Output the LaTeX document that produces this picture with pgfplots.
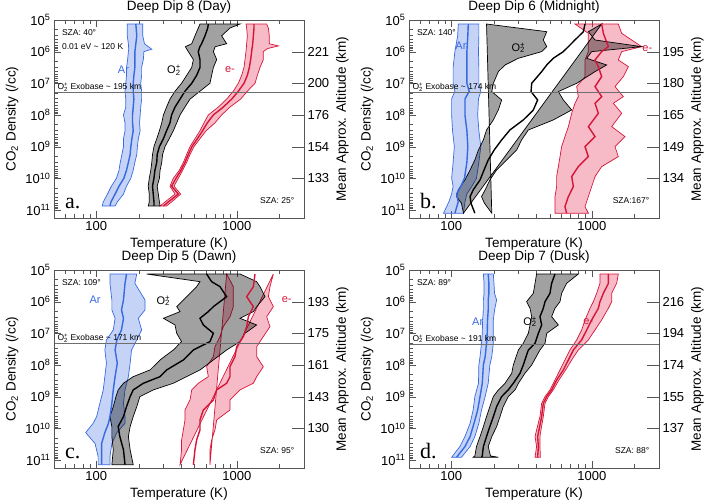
\documentclass[border=0pt]{standalone}
\usepackage{fontspec}
\setmainfont{Liberation Sans}
\newfontfamily\seriffont{Liberation Serif}
\usepackage{pgfplots}
\usepackage{pgfplotstable}
\pgfplotsset{compat=1.18}
\usepgfplotslibrary{fillbetween}

\definecolor{arC}{RGB}{55,105,225}
\definecolor{arF}{RGB}{60,110,225}
\definecolor{eC}{RGB}{215,20,55}
\definecolor{eF}{RGB}{225,30,70}
\definecolor{frameC}{RGB}{85,85,85}
\definecolor{exoC}{RGB}{110,110,110}

\pgfplotstableread{
n lo c hi
1.34e5 166 191 214
3.16e5 166 194 214
5.62e5 169 191 220
8.4e5 170 189 248
1e6 169 188 218
1.78e6 167 188 216
3.16e6 164 188 210
5.62e6 164 185 210
1e7 162 183 207
1.78e7 160 183 210
3.16e7 162 185 210
5.62e7 162 183 207
1e8 156 181 205
1.78e8 160 181 203
3.16e8 160 183 205
5.62e8 156 179 199
1e9 156 176 196
1.78e9 152 174 194
3.16e9 148 169 188
5.62e9 145 164 183
1e10 139 157 176
1.78e10 128 145 164
3.16e10 120 136 156
5.62e10 112 127 141
7.5e10 110 125 136
}\TaAr
\pgfplotstableread{
n lo c hi
1.34e5 546 626 1052
1.79e5 531 620 893
3.16e5 503 593 779
5.62e5 477 561 845
7e5 430 545 700
1e6 451 531 680
1.78e6 490 546 718
3.16e6 477 546 680
5.62e6 439 517 661
1e7 404 477 643
1.78e7 363 427 546
3.16e7 334 394 464
5.62e7 316 363 427
1e8 300 343 394
1.78e8 292 334 373
3.16e8 281 316 353
5.62e8 269 300 330
1e9 257 281 308
1.78e9 251 271 296
3.16e9 248 269 292
5.62e9 244 261 284
1e10 238 257 281
1.78e10 234 251 271
3.16e10 238 254 276
5.62e10 238 257 281
7.5e10 234 257 284
}\TaO
\pgfplotstableread{
n lo c hi
1.34e5 1160 1323 1628
1.79e5 1173 1323 1673
3.16e5 1186 1309 1700
5.62e5 1173 1295 1700
6.6e5 1170 1290 1971
8e5 1165 1280 1650
1e6 1160 1273 1541
1.78e6 1141 1253 1541
3.16e6 1123 1226 1459
5.62e6 1081 1186 1397
1e7 1023 1123 1345
1.78e7 943 1023 1186
3.16e7 845 918 1063
5.62e7 738 800 893
1e8 626 680 779
1.78e8 583 616 698
3.16e8 546 570 603
5.62e8 503 523 546
1e9 464 479 495
1.78e9 439 451 464
3.16e9 416 427 439
5.62e9 389 400 411
1e10 353 369 383
1.78e10 334 343 357
3.16e10 363 383 398
5.62e10 308 325 343
7.5e10 284 300 316
}\TaE

\pgfplotstableread{
n lo c hi
1.34e5 112 132 157
3.12e5 111 131 157
1e6 106 129 156
3.12e6 103 129 157
1e7 103 129 157
1.79e7 106 134 162
3.12e7 100.5 125 156
1e8 100.5 125 154
3.12e8 102 129 157
1e9 105 131 162
3.12e9 103 129 157
1e10 100.5 124 151
1.79e10 103 117 140
3.12e10 100.5 109 129
5.58e10 96 112 125
1.27e11 88 106 122
}\TbAr
\pgfplotstableread{
n lo c hi
1.34e5 178 893 1173
2.34e5 477 869 943
4.28e5 451 758 1052
6.95e5 477 680 2259
1e6 439 626 996
1.62e6 300 531 918
2.64e6 241 477 1273
4.28e6 216 439 1052
1e7 199 373 779
1.83e7 194 369 577
3.36e7 228 411 626
6.95e7 216 383 718
1.44e8 199 325 531
2.98e8 178 261 353
6.15e8 169 228 316
1.27e9 156 202 292
2.64e9 147 183 248
5.46e9 136 171 210
1.13e10 125 160 188
2.34e10 112 143 174
3.79e10 109 136 164
6.15e10 118 138 172
1.27e11 122 147 194
}\TbO
\pgfplotstableread{
n lo c hi
1.34e5 758 1173 1541
2.64e5 943 1206 1628
6.95e5 943 1309 2259
1e6 943 1173 1628
1.83e6 893 1052 1541
2.98e6 893 1111 1816
6.15e6 893 1173 1673
1.27e7 779 1052 1459
2.64e7 800 1173 1673
4.28e7 758 1052 1420
8.86e7 718 1111 1628
2.34e8 680 943 1382
4.83e8 643 1052 1719
1e9 609 893 1459
2.07e9 593 943 1541
4.28e9 577 800 1173
8.86e9 561 718 1052
1.83e10 561 738 996
3.79e10 546 680 943
7.85e10 546 643 893
1.27e11 546 661 943
}\TbE

\pgfplotstableread{
n lo c hi
1.34e5 125 164 194
2.64e5 125 160 188
8.86e5 129 156 222
1.83e6 129 151 222
3.36e6 136 156 199
7.85e6 132 151 210
1.62e7 118 140 194
3.36e7 115 136 178
8.86e7 118 141 174
2.34e8 115 136 169
6.15e8 112 132 160
1.62e9 106 129 156
4.28e9 100.5 125 160
6.95e9 95 122 160
1.37e10 84 115 140
3.05e10 98 109 129
7.85e10 103 109 125
1.42e11 103 109 125
}\TcAr
\pgfplotstableread{
n lo c hi
1.34e5 228 609 1052
2.34e5 546 661 1382
3.36e5 517 758 1459
6.95e5 439 845 1584
1.44e6 373 680 1382
2.07e6 394 626 1309
3.36e6 300 546 1052
5.46e6 363 577 1382
1e7 373 680 1141
1.83e7 404 643 1052
3.36e7 353 490 845
6.95e7 284 416 680
1.44e8 241 316 546
2.34e8 183 284 439
3.79e8 156 216 353
6.15e8 143 183 254
1e9 138 174 204
2.07e9 132 164 194
4.28e9 125 156 183
8.86e9 129 143 174
1.83e10 129 147 169
4.8e10 132 156 174
1.42e11 129 160 183
}\TcO
\pgfplotstableread{
n lo c hi
1.34e5 845 1345 1816
3.36e5 943 1309 1719
6.95e5 943 1173 1673
1.44e6 943 1309 1816
2.98e6 893 1206 1628
6.15e6 800 1173 1719
1.27e7 758 1111 1541
2.64e7 698 996 1382
5.46e7 680 969 1382
1.13e8 609 893 1541
2.34e8 626 893 1382
3.79e8 531 845 1309
6.15e8 477 718 1052
1.27e9 464 680 893
2.64e9 427 577 893
5.46e9 427 546 718
1.13e10 416 546 698
2.34e10 404 517 661
4.8e10 404 503 643
1.42e11 394 490 643
}\TcE

\pgfplotstableread{
n lo c hi
1.34e5 169 183 199
2.64e5 171 185 201
5.46e5 171 185 203
8.86e5 169 183 210
1.83e6 169 183 203
3.79e6 167 181 199
1e7 166 180 199
2.07e7 164 178 199
5.46e7 160 174 194
1e8 157 169 188
3.79e8 156 166 183
1e9 147 160 174
2.64e9 143 154 164
6.95e9 136 145 157
1.83e10 125 136 147
3.79e10 115 125 136
8.24e10 100.5 109 118
}\TdAr
\pgfplotstableread{
n lo c hi
1.34e5 404 546 800
2.64e5 394 517 661
5.46e5 383 503 609
1e6 343 464 593
1.62e6 363 451 546
2.98e6 373 427 517
5.46e6 363 439 577
1e7 353 416 477
2.07e7 325 394 464
3.36e7 300 353 427
1e8 276 325 373
1.83e8 269 308 334
3.79e8 241 276 300
6.15e8 216 254 284
1e9 199 228 254
2.07e9 188 210 234
4.28e9 178 199 222
8.86e9 169 188 210
1.83e10 160 178 194
3.79e10 151 169 183
7.5e10 147 166 190
8.24e10 143 164 216
}\TdO
\pgfplotstableread{
n lo c hi
1.34e5 1141 1309 1541
2.64e5 1141 1309 1500
5.46e5 1081 1206 1382
1e6 1023 1141 1382
1.62e6 969 1111 1309
3.79e6 893 996 1173
7.85e6 845 918 1052
1.62e7 779 845 943
3.36e7 698 738 800
6.95e7 643 680 718
1.44e8 593 626 650
2.98e8 546 561 583
6.15e8 503 517 531
1e9 464 477 490
1.62e9 439 451 464
4.28e9 427 439 451
1.13e10 404 420 434
1.83e10 394 411 427
3.79e10 404 416 427
8.24e10 394 411 430
}\TdE

\newcommand{\specband}[5]{%
  \addplot[draw=none, forget plot, name path=#5L] table[x=lo,y=n]{#1};
  \addplot[draw=none, forget plot, name path=#5H] table[x=hi,y=n]{#1};
  \addplot[fill=#2, fill opacity=#3, draw=#4, line width=0.7pt, forget plot] fill between[of=#5L and #5H];
  \addplot[#4, line width=1.4pt, forget plot] table[x=c,y=n]{#1};
}

\newcommand{\smallfont}{\fontsize{8.5}{10}\selectfont}
\newcommand{\spfont}{\fontsize{11}{13}\selectfont}
\newcommand{\tickfont}{\fontsize{13}{15}\selectfont}
\newcommand{\labfont}{\fontsize{13.5}{16}\selectfont}
\newcommand{\Otwo}{O\rlap{\textsubscript{2}}\textsuperscript{+}}

\begin{document}
\begin{tikzpicture}
% ===== Panel a =====
\begin{axis}[scale only axis, width=250pt, height=198pt,
    xmode=log, ymode=log, y dir=reverse,
    xmin=50, xmax=3000, ymin=1e5, ymax=1.8e11,
    xtick={100,1000}, xticklabels={100,1000},
    minor xtick={50,60,70,80,90,200,300,400,500,600,700,800,900,2000,3000},
    ytick={1e5,1e6,1e7,1e8,1e9,1e10,1e11},
    yticklabels={10\textsuperscript{5},10\textsuperscript{6},10\textsuperscript{7},10\textsuperscript{8},10\textsuperscript{9},10\textsuperscript{10},10\textsuperscript{11}},
    minor ytick={2e5,3e5,4e5,5e5,6e5,7e5,8e5,9e5,2e6,3e6,4e6,5e6,6e6,7e6,8e6,9e6,2e7,3e7,4e7,5e7,6e7,7e7,8e7,9e7,2e8,3e8,4e8,5e8,6e8,7e8,8e8,9e8,2e9,3e9,4e9,5e9,6e9,7e9,8e9,9e9,2e10,3e10,4e10,5e10,6e10,7e10,8e10,9e10},
    xtick pos=both, ytick pos=left,
    tick align=inside, major tick length=7pt, minor tick length=4pt,
    axis line style={frameC}, tick style={frameC},
    xticklabel style={font=\tickfont}, yticklabel style={font=\tickfont},
    xlabel style={font=\labfont}, ylabel style={font=\labfont},
    title style={font=\labfont, yshift=-3pt},
    xlabel={Temperature (K)}, ylabel={CO\textsubscript{2} Density (/cc)},
    title={Deep Dip 8 (Day)}, at={(54pt,284pt)}, anchor=south west]
  \specband{\TaAr}{arF}{0.3}{arC}{aar}
  \specband{\TaE}{eF}{0.3}{eC}{ael}
  \specband{\TaO}{black}{0.37}{black}{aox}
  \addplot[exoC, line width=0.8pt] coordinates {(50,1.92e7) (3000,1.92e7)};
  \node[anchor=south west, inner sep=1pt, font=\smallfont] at (axis cs:52,1.92e7) {\Otwo\ Exobase \textasciitilde\ 195 km};
  \node[anchor=west, font=\smallfont] at (axis description cs:0.018,0.934) {SZA: 40°};
  \node[anchor=west, font=\smallfont] at (axis description cs:0.018,0.864) {0.01 eV \textasciitilde\ 120 K};
  \node[anchor=east, font=\smallfont] at (axis description cs:0.975,0.086) {SZA: 25°};
  \node[anchor=base west, font=\seriffont\fontsize{22}{24}\selectfont] at (axis description cs:0.03,0.05) {a.};
  \node[text=arC, font=\spfont] at (axis cs:156,3.8e6) {Ar};
  \node[text=black, font=\spfont] at (axis cs:357,3.8e6) {\Otwo};
  \node[text=eC, font=\spfont] at (axis cs:893,3.8e6) {e-};
\end{axis}
\begin{axis}[scale only axis, width=250pt, height=198pt,
    ymode=log, y dir=reverse, ymin=1e5, ymax=1.8e11, xmin=0, xmax=1,
    hide x axis, ytick={1e6,1e7,1e8,1e9,1e10}, yminorticks=false,
    ytick pos=right, yticklabel pos=right,
    tick align=inside, major tick length=12pt,
    axis line style={frameC}, tick style={frameC},
    yticklabel style={font=\tickfont}, ylabel style={font=\labfont},
    ylabel={Mean Approx. Altitude (km)},
    yticklabels={221,200,176,154,133}, at={(54pt,284pt)}, anchor=south west]
\end{axis}

% ===== Panel b =====
\begin{axis}[scale only axis, width=250pt, height=198pt,
    xmode=log, ymode=log, y dir=reverse,
    xmin=50, xmax=3000, ymin=1e5, ymax=1.8e11,
    xtick={100,1000}, xticklabels={100,1000},
    minor xtick={50,60,70,80,90,200,300,400,500,600,700,800,900,2000,3000},
    ytick={1e5,1e6,1e7,1e8,1e9,1e10,1e11},
    yticklabels={10\textsuperscript{5},10\textsuperscript{6},10\textsuperscript{7},10\textsuperscript{8},10\textsuperscript{9},10\textsuperscript{10},10\textsuperscript{11}},
    minor ytick={2e5,3e5,4e5,5e5,6e5,7e5,8e5,9e5,2e6,3e6,4e6,5e6,6e6,7e6,8e6,9e6,2e7,3e7,4e7,5e7,6e7,7e7,8e7,9e7,2e8,3e8,4e8,5e8,6e8,7e8,8e8,9e8,2e9,3e9,4e9,5e9,6e9,7e9,8e9,9e9,2e10,3e10,4e10,5e10,6e10,7e10,8e10,9e10},
    xtick pos=both, ytick pos=left,
    tick align=inside, major tick length=7pt, minor tick length=4pt,
    axis line style={frameC}, tick style={frameC},
    xticklabel style={font=\tickfont}, yticklabel style={font=\tickfont},
    xlabel style={font=\labfont}, ylabel style={font=\labfont},
    title style={font=\labfont, yshift=-3pt},
    xlabel={Temperature (K)}, ylabel={CO\textsubscript{2} Density (/cc)},
    title={Deep Dip 6 (Midnight)}, at={(409pt,284pt)}, anchor=south west]
  \specband{\TbAr}{arF}{0.3}{arC}{bar}
  \specband{\TbE}{eF}{0.3}{eC}{bel}
  \specband{\TbO}{black}{0.37}{black}{box}
  \addplot[exoC, line width=0.8pt] coordinates {(50,1.92e7) (3000,1.92e7)};
  \node[anchor=south west, inner sep=1pt, font=\smallfont] at (axis cs:52,1.92e7) {\Otwo\ Exobase \textasciitilde\ 174 km};
  \node[anchor=west, font=\smallfont] at (axis description cs:0.018,0.934) {SZA: 140°};
  \node[anchor=east, font=\smallfont] at (axis description cs:0.975,0.086) {SZA:167°};
  \node[anchor=base west, font=\seriffont\fontsize{22}{24}\selectfont] at (axis description cs:0.03,0.05) {b.};
  \node[text=arC, font=\spfont] at (axis cs:117,6.5e5) {Ar};
  \node[text=black, font=\spfont] at (axis cs:300,7.5e5) {\Otwo};
  \node[text=eC, font=\spfont] at (axis cs:2480,7.9e5) {e-};
\end{axis}
\begin{axis}[scale only axis, width=250pt, height=198pt,
    ymode=log, y dir=reverse, ymin=1e5, ymax=1.8e11, xmin=0, xmax=1,
    hide x axis, ytick={1e6,1e7,1e8,1e9,1e10}, yminorticks=false,
    ytick pos=right, yticklabel pos=right,
    tick align=inside, major tick length=12pt,
    axis line style={frameC}, tick style={frameC},
    yticklabel style={font=\tickfont}, ylabel style={font=\labfont},
    ylabel={Mean Approx. Altitude (km)},
    yticklabels={195,180,165,149,134}, at={(409pt,284pt)}, anchor=south west]
\end{axis}

% ===== Panel c =====
\begin{axis}[scale only axis, width=250pt, height=198pt,
    xmode=log, ymode=log, y dir=reverse,
    xmin=50, xmax=3000, ymin=1e5, ymax=1.8e11,
    xtick={100,1000}, xticklabels={100,1000},
    minor xtick={50,60,70,80,90,200,300,400,500,600,700,800,900,2000,3000},
    ytick={1e5,1e6,1e7,1e8,1e9,1e10,1e11},
    yticklabels={10\textsuperscript{5},10\textsuperscript{6},10\textsuperscript{7},10\textsuperscript{8},10\textsuperscript{9},10\textsuperscript{10},10\textsuperscript{11}},
    minor ytick={2e5,3e5,4e5,5e5,6e5,7e5,8e5,9e5,2e6,3e6,4e6,5e6,6e6,7e6,8e6,9e6,2e7,3e7,4e7,5e7,6e7,7e7,8e7,9e7,2e8,3e8,4e8,5e8,6e8,7e8,8e8,9e8,2e9,3e9,4e9,5e9,6e9,7e9,8e9,9e9,2e10,3e10,4e10,5e10,6e10,7e10,8e10,9e10},
    xtick pos=both, ytick pos=left,
    tick align=inside, major tick length=7pt, minor tick length=4pt,
    axis line style={frameC}, tick style={frameC},
    xticklabel style={font=\tickfont}, yticklabel style={font=\tickfont},
    xlabel style={font=\labfont}, ylabel style={font=\labfont},
    title style={font=\labfont, yshift=-3pt},
    xlabel={Temperature (K)}, ylabel={CO\textsubscript{2} Density (/cc)},
    title={Deep Dip 5 (Dawn)}, at={(54pt,34pt)}, anchor=south west]
  \specband{\TcAr}{arF}{0.3}{arC}{car}
  \specband{\TcE}{eF}{0.3}{eC}{cel}
  \specband{\TcO}{black}{0.37}{black}{cox}
  \addplot[exoC, line width=0.8pt] coordinates {(50,2.07e7) (3000,2.07e7)};
  \node[anchor=south west, inner sep=1pt, font=\smallfont] at (axis cs:52,2.07e7) {\Otwo\ Exobase \textasciitilde\ 171 km};
  \node[anchor=west, font=\smallfont] at (axis description cs:0.018,0.934) {SZA: 109°};
  \node[anchor=east, font=\smallfont] at (axis description cs:0.975,0.086) {SZA: 95°};
  \node[anchor=base west, font=\seriffont\fontsize{22}{24}\selectfont] at (axis description cs:0.03,0.05) {c.};
  \node[text=arC, font=\spfont] at (axis cs:98,8.5e5) {Ar};
  \node[text=black, font=\spfont] at (axis cs:300,9.3e5) {\Otwo};
  \node[text=eC, font=\spfont] at (axis cs:2259,8.9e5) {e-};
\end{axis}
\begin{axis}[scale only axis, width=250pt, height=198pt,
    ymode=log, y dir=reverse, ymin=1e5, ymax=1.8e11, xmin=0, xmax=1,
    hide x axis, ytick={1e6,1e7,1e8,1e9,1e10}, yminorticks=false,
    ytick pos=right, yticklabel pos=right,
    tick align=inside, major tick length=12pt,
    axis line style={frameC}, tick style={frameC},
    yticklabel style={font=\tickfont}, ylabel style={font=\labfont},
    ylabel={Mean Approx. Altitude (km)},
    yticklabels={193,175,161,143,130}, at={(54pt,34pt)}, anchor=south west]
\end{axis}

% ===== Panel d =====
\begin{axis}[scale only axis, width=250pt, height=198pt,
    xmode=log, ymode=log, y dir=reverse,
    xmin=50, xmax=3000, ymin=1e5, ymax=1.8e11,
    xtick={100,1000}, xticklabels={100,1000},
    minor xtick={50,60,70,80,90,200,300,400,500,600,700,800,900,2000,3000},
    ytick={1e5,1e6,1e7,1e8,1e9,1e10,1e11},
    yticklabels={10\textsuperscript{5},10\textsuperscript{6},10\textsuperscript{7},10\textsuperscript{8},10\textsuperscript{9},10\textsuperscript{10},10\textsuperscript{11}},
    minor ytick={2e5,3e5,4e5,5e5,6e5,7e5,8e5,9e5,2e6,3e6,4e6,5e6,6e6,7e6,8e6,9e6,2e7,3e7,4e7,5e7,6e7,7e7,8e7,9e7,2e8,3e8,4e8,5e8,6e8,7e8,8e8,9e8,2e9,3e9,4e9,5e9,6e9,7e9,8e9,9e9,2e10,3e10,4e10,5e10,6e10,7e10,8e10,9e10},
    xtick pos=both, ytick pos=left,
    tick align=inside, major tick length=7pt, minor tick length=4pt,
    axis line style={frameC}, tick style={frameC},
    xticklabel style={font=\tickfont}, yticklabel style={font=\tickfont},
    xlabel style={font=\labfont}, ylabel style={font=\labfont},
    title style={font=\labfont, yshift=-3pt},
    xlabel={Temperature (K)}, ylabel={CO\textsubscript{2} Density (/cc)},
    title={Deep Dip 7 (Dusk)}, at={(409pt,34pt)}, anchor=south west]
  \specband{\TdAr}{arF}{0.3}{arC}{dar}
  \specband{\TdE}{eF}{0.3}{eC}{del}
  \specband{\TdO}{black}{0.37}{black}{dox}
  \addplot[exoC, line width=0.8pt] coordinates {(50,2.17e7) (3000,2.17e7)};
  \node[anchor=south west, inner sep=1pt, font=\smallfont] at (axis cs:52,2.17e7) {\Otwo\ Exobase \textasciitilde\ 191 km};
  \node[anchor=west, font=\smallfont] at (axis description cs:0.018,0.934) {SZA: 89°};
  \node[anchor=east, font=\smallfont] at (axis description cs:0.975,0.086) {SZA: 88°};
  \node[anchor=base west, font=\seriffont\fontsize{22}{24}\selectfont] at (axis description cs:0.03,0.05) {d.};
  \node[text=arC, font=\spfont] at (axis cs:154,4.3e6) {Ar};
  \node[text=black, font=\spfont] at (axis cs:363,4.3e6) {\Otwo};
  \node[text=eC, font=\spfont] at (axis cs:943,4.3e6) {e-};
\end{axis}
\begin{axis}[scale only axis, width=250pt, height=198pt,
    ymode=log, y dir=reverse, ymin=1e5, ymax=1.8e11, xmin=0, xmax=1,
    hide x axis, ytick={1e6,1e7,1e8,1e9,1e10}, yminorticks=false,
    ytick pos=right, yticklabel pos=right,
    tick align=inside, major tick length=12pt,
    axis line style={frameC}, tick style={frameC},
    yticklabel style={font=\tickfont}, ylabel style={font=\labfont},
    ylabel={Mean Approx. Altitude (km)},
    yticklabels={216,194,174,155,137}, at={(409pt,34pt)}, anchor=south west]
\end{axis}

\pgfresetboundingbox
\path[use as bounding box] (0pt,0pt) rectangle (709pt,502pt);
\end{tikzpicture}
\end{document}
